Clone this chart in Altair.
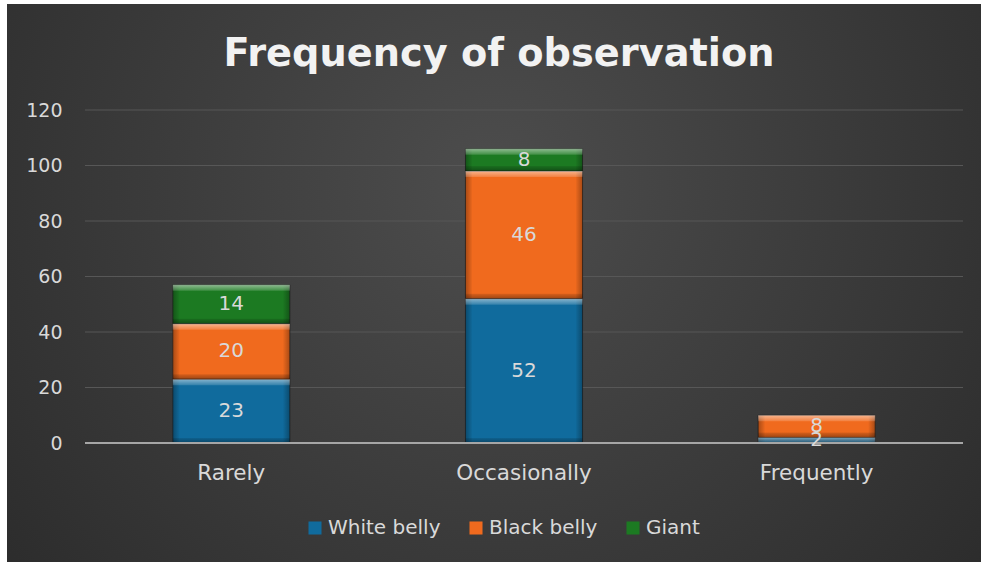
import altair as alt
import pandas as pd

# Observation counts per frequency class, stacked by series
categories = ["Rarely", "Occasionally", "Frequently"]
series = ["White belly", "Black belly", "Giant"]
white_belly = [23, 52, 2]
black_belly = [20, 46, 8]
giant = [14, 8, 0]
y_ticks = [0, 20, 40, 60, 80, 100, 120]
colors = ["#106b9d", "#f06a1e", "#1c7a22"]
chart_title = "Frequency of observation"

rows = []
for i, cat in enumerate(categories):
    for j, (name, vals) in enumerate(zip(series, [white_belly, black_belly, giant])):
        rows.append({"category": cat, "series": name, "order": j, "value": vals[i]})
df = pd.DataFrame(rows)

W, H = 878, 333
PAD = {"left": 85, "top": 110, "right": 18, "bottom": 119}
FONT = "DejaVu Sans"
TEXT_COL = "#d9d9d9"

y_scale = alt.Scale(domain=[0, 120])
x_scale = alt.Scale(domain=categories, paddingInner=0.6, paddingOuter=0.3)


def xcat():
    return alt.X("category:N", sort=categories, scale=x_scale, title=None)


def yq(field):
    return alt.Y(field, scale=y_scale, title=None)


# Dark radial backdrop behind the whole chart
backdrop = alt.Chart(alt.Data(values=[{"k": 1}])).mark_rect(
    fill={
        "gradient": "radial",
        "x1": 0.5, "y1": 0.4, "x2": 0.5, "y2": 0.4, "r1": 0, "r2": 0.78,
        "stops": [
            {"offset": 0, "color": "#4d4d4d"},
            {"offset": 1, "color": "#252525"},
        ],
    }
).encode(
    x=alt.value(7 - PAD["left"]),
    x2=alt.value(W + PAD["right"]),
    y=alt.value(4 - PAD["top"]),
    y2=alt.value(H + PAD["bottom"]),
)

# Horizontal gridlines; this layer also carries the y axis labels
grid = alt.Chart(alt.Data(values=[{"t": v} for v in y_ticks[1:]])).mark_rule(
    color="#575757", strokeWidth=1
).encode(
    y=alt.Y(
        "t:Q",
        scale=y_scale,
        title=None,
        axis=alt.Axis(
            values=y_ticks, grid=False, domain=False, ticks=False,
            labelPadding=23, labelFontSize=19, labelColor=TEXT_COL,
            labelFont=FONT, zindex=1,
        ),
    )
)

base = (
    alt.Chart(df)
    .transform_filter("datum.value > 0")
    .transform_stack(
        stack="value",
        groupby=["category"],
        as_=["y0", "y1"],
        sort=[alt.SortField("order", order="ascending")],
    )
    .transform_calculate(mid="(datum.y0 + datum.y1) / 2")
)

bars = base.mark_bar(stroke="#1e1e1e", strokeWidth=1, strokeOpacity=0.7).encode(
    x=alt.X(
        "category:N",
        sort=categories,
        scale=x_scale,
        title=None,
        axis=alt.Axis(
            domain=False, ticks=False, labelAngle=0, labelPadding=19,
            labelFontSize=21.5, labelColor=TEXT_COL, labelFont=FONT, zindex=1,
        ),
    ),
    y=yq("y1:Q"),
    y2="y0:Q",
    color=alt.Color(
        "series:N",
        scale=alt.Scale(domain=series, range=colors),
        legend=alt.Legend(
            title=None, orient="none", direction="horizontal",
            legendX=220, legendY=408, symbolType="square", symbolSize=170,
            symbolStrokeWidth=0, labelFontSize=20, labelColor=TEXT_COL,
            labelFont=FONT, labelOffset=3, columnPadding=25,
        ),
    ),
)

# Bevel shading: darker side edges
sides = base.mark_bar(
    fill={
        "gradient": "linear", "x1": 0, "y1": 0, "x2": 1, "y2": 0,
        "stops": [
            {"offset": 0, "color": "rgba(0,0,0,0.30)"},
            {"offset": 0.05, "color": "rgba(0,0,0,0.06)"},
            {"offset": 0.06, "color": "rgba(0,0,0,0)"},
            {"offset": 0.94, "color": "rgba(0,0,0,0)"},
            {"offset": 0.95, "color": "rgba(0,0,0,0.06)"},
            {"offset": 1, "color": "rgba(0,0,0,0.30)"},
        ],
    }
).encode(x=xcat(), y=yq("y1:Q"), y2="y0:Q")

# Bevel shading: light top edge
tops = base.mark_bar(
    y2Offset=6,
    fill={
        "gradient": "linear", "x1": 0, "y1": 0, "x2": 0, "y2": 1,
        "stops": [
            {"offset": 0, "color": "rgba(255,255,255,0.50)"},
            {"offset": 1, "color": "rgba(255,255,255,0.15)"},
        ],
    },
).encode(x=xcat(), y=yq("y1:Q"), y2="y1:Q")

# Bevel shading: dark bottom edge
bottoms = base.mark_bar(
    yOffset=-5,
    fill={
        "gradient": "linear", "x1": 0, "y1": 0, "x2": 0, "y2": 1,
        "stops": [
            {"offset": 0, "color": "rgba(0,0,0,0.10)"},
            {"offset": 1, "color": "rgba(0,0,0,0.35)"},
        ],
    },
).encode(x=xcat(), y=yq("y0:Q"), y2="y0:Q")

labels = base.mark_text(
    color=TEXT_COL, fontSize=20, font=FONT, baseline="middle"
).encode(x=xcat(), y=yq("mid:Q"), text="value:Q")

baseline = alt.Chart(alt.Data(values=[{"t": 0}])).mark_rule(
    color="#a6a6a6", strokeWidth=2
).encode(y=yq("t:Q"))

# Heading, centred over the full chart area
heading = alt.Chart(alt.Data(values=[{"title": chart_title}])).mark_text(
    font="DejaVu Sans", fontSize=38.3, fontWeight="bold", color="#f2f2f2",
    align="center", baseline="alphabetic",
).encode(
    x=alt.value(414),
    y=alt.value(-44),
    text="title:N",
)

chart = (
    alt.layer(backdrop, grid, bars, sides, tops, bottoms, baseline, labels, heading)
    .properties(
        width=W,
        height=H,
        padding=PAD,
        autosize=alt.AutoSizeParams(type="none"),
        background="white",
    )
    .configure_view(stroke=None)
)

chart.save("out.html", embed_options={"renderer": "svg", "actions": False})
